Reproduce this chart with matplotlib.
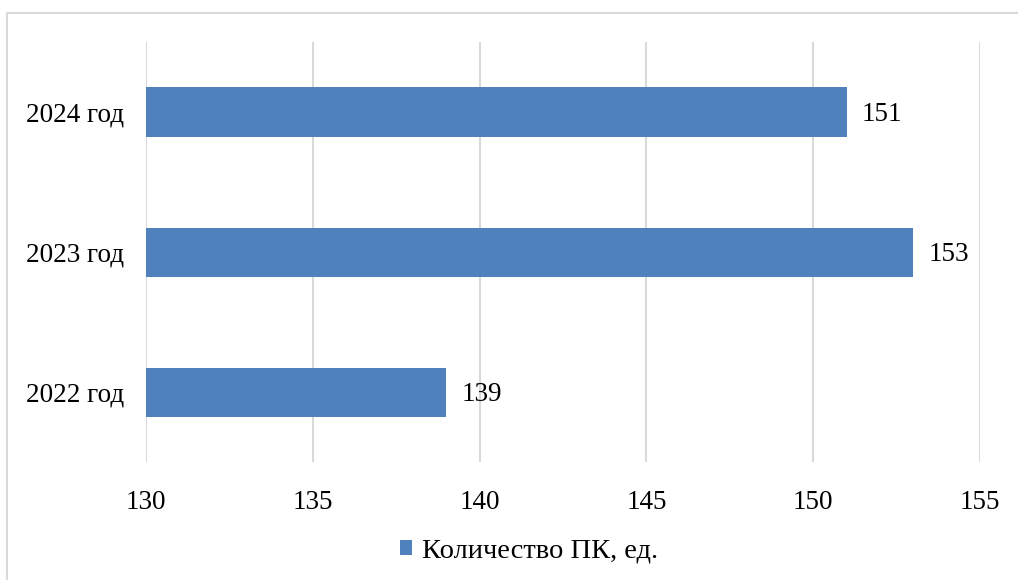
import matplotlib.pyplot as plt
from matplotlib.patches import Rectangle

# data
years = ["2022 год", "2023 год", "2024 год"]
counts = [139, 153, 151]
series_name = "Количество ПК, ед."

BAR_COLOR = "#4f81bd"
GRID_COLOR = "#d9d9d9"
FS = 19.5

plt.rcParams["font.family"] = ["Liberation Serif", "DejaVu Serif"]

fig = plt.figure(figsize=(10.18, 5.8), dpi=100)
ax = fig.add_axes([0.1434, 0.2034, 0.8193, 0.7242])

base = 130
bars = ax.barh(years, [c - base for c in counts], left=base, height=0.35,
               color=BAR_COLOR, label=series_name, zorder=3)

for bar, c in zip(bars, counts):
    ax.text(bar.get_x() + bar.get_width() + 0.45, bar.get_y() + bar.get_height() / 2 - 0.02,
            f"{c}", va="center", ha="left", fontsize=FS)

ax.set_xlim(130, 155)
ax.set_ylim(-0.5, 2.5)
ax.set_xticks(range(130, 156, 5))
ax.grid(axis="x", color=GRID_COLOR, linewidth=1.5, zorder=0)
for s in ax.spines.values():
    s.set_visible(False)
ax.tick_params(length=0, labelsize=FS, pad=16)
ax.tick_params(axis="x", pad=20)

ax.legend(loc="center", bbox_to_anchor=(0.52, 0.05), bbox_transform=fig.transFigure,
          frameon=False, fontsize=20.5, handlelength=0.42, handleheight=0.42,
          handletextpad=0.35)

# outer chart border (cropped at right and bottom)
fig.patches.append(Rectangle((7 / 1018, -0.1), 1.2, 1.1 - 13 / 580,
                             transform=fig.transFigure, fill=False,
                             edgecolor=GRID_COLOR, linewidth=1.5))

fig.savefig("out.png", dpi=100)
